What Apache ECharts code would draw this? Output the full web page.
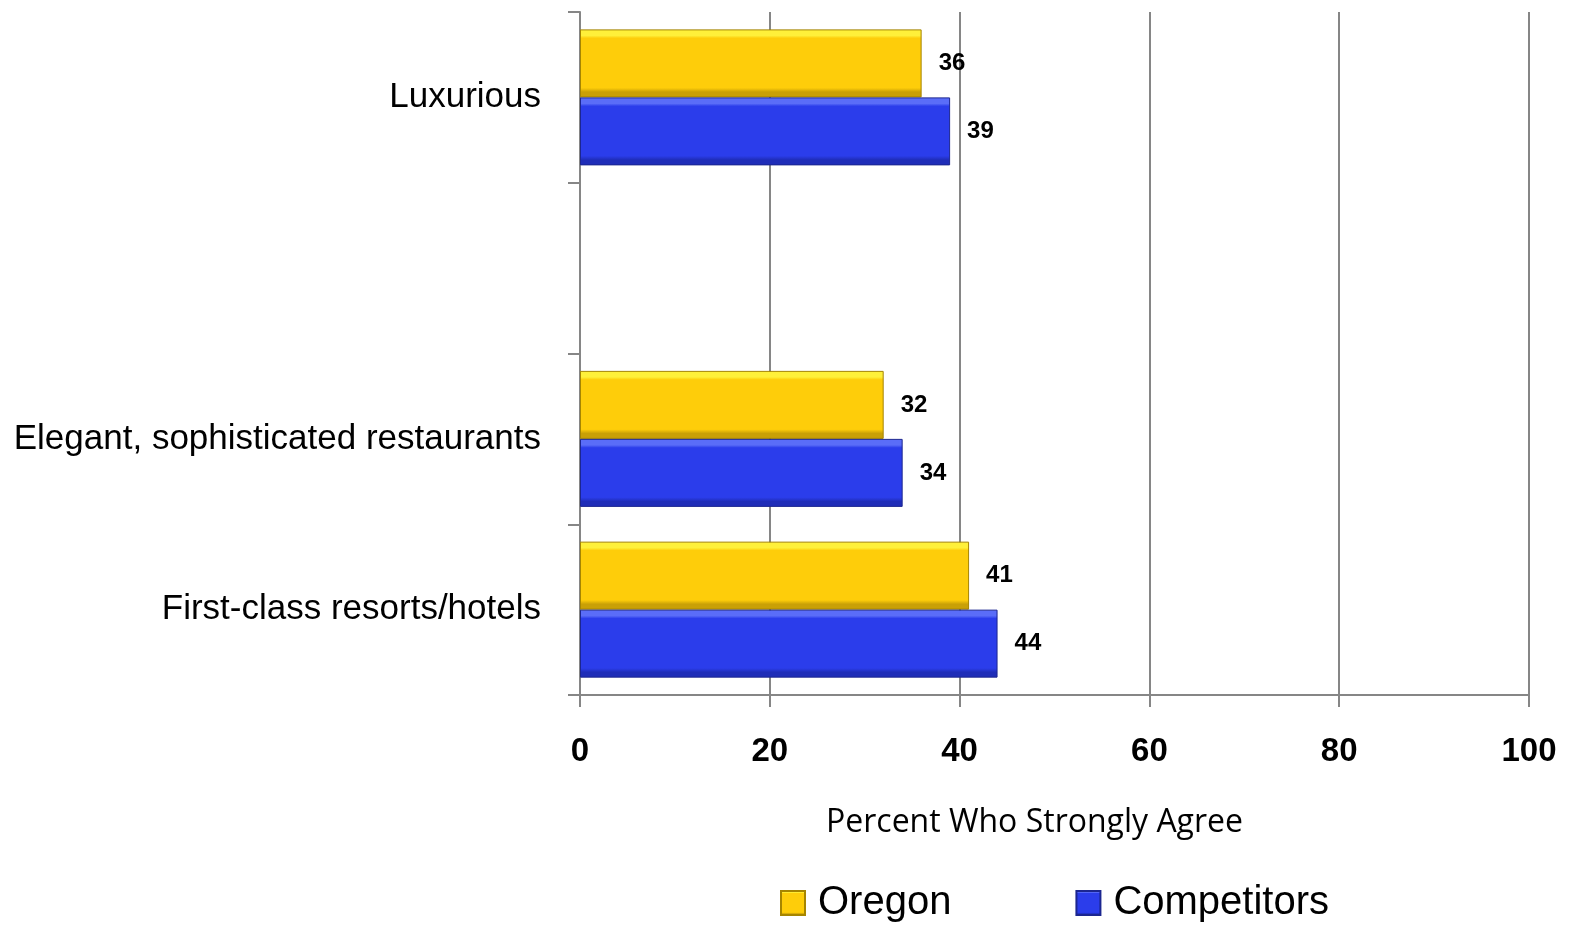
<!DOCTYPE html>
<html>
<head>
<meta charset="utf-8">
<script src="https://cdn.jsdelivr.net/npm/echarts@6/dist/echarts.min.js"></script>
<style>
  html, body { margin: 0; padding: 0; background: #ffffff; }
  #chart { width: 1570px; height: 925px; }
</style>
</head>
<body>
<div id="chart"></div>
<script>
// Category slots, bottom to top (the blank slot keeps the gap under "Luxurious")
const categories = ['First-class resorts/hotels', 'Elegant, sophisticated restaurants', '', 'Luxurious'];
const seriesNames = ['Oregon', 'Competitors'];
const oregonValues = [41, 32, '-', 36];
const competitorValues = [44, 34, '-', 39];
const xTicks = [0, 20, 40, 60, 80, 100];
const axisTitle = 'Percent Who Strongly Agree';

const gridColor = '#868686';

// Bevelled bar fill: bright top edge, flat face, dark bottom edge
function bevel(light, face, dark) {
  return new echarts.graphic.LinearGradient(0, 0, 0, 1, [
    { offset: 0, color: light },
    { offset: 0.09, color: light },
    { offset: 0.13, color: face },
    { offset: 0.86, color: face },
    { offset: 0.92, color: dark },
    { offset: 1, color: dark }
  ]);
}

const chart = echarts.init(document.getElementById('chart'), null, { renderer: 'canvas' });

const labelStyle = {
  show: true,
  position: 'right',
  distance: 17,
  color: '#000000',
  fontFamily: 'Liberation Sans, Arial, sans-serif',
  fontWeight: 'bold',
  fontSize: 24
};

chart.setOption({
  animation: false,
  backgroundColor: '#ffffff',
  grid: { left: 580, right: 41, top: 12, bottom: 230, containLabel: false, outerBoundsMode: 'none' },
  legend: {
    top: 883,
    left: 780,
    padding: 0,
    itemWidth: 24,
    itemHeight: 24,
    itemGap: 124,
    icon: 'rect',
    data: seriesNames,
    textStyle: {
      color: '#000000',
      fontFamily: 'Liberation Sans, Arial, sans-serif',
      fontSize: 40,
      padding: [0, 0, 0, 8]
    }
  },
  xAxis: {
    type: 'value',
    min: xTicks[0],
    max: xTicks[xTicks.length - 1],
    interval: xTicks[1] - xTicks[0],
    name: axisTitle,
    nameLocation: 'middle',
    nameGap: 112,
    nameTextStyle: {
      color: '#000000',
      fontFamily: '"Open Sans", Lato, sans-serif',
      fontSize: 32,
      padding: [0, 40, 0, 0]
    },
    axisLine: { show: true, lineStyle: { color: gridColor, width: 2 } },
    axisTick: { show: true, length: 12, lineStyle: { color: gridColor, width: 2 } },
    axisLabel: {
      margin: 40,
      color: '#000000',
      fontFamily: 'Liberation Sans, Arial, sans-serif',
      fontWeight: 'bold',
      fontSize: 33
    },
    splitLine: { show: true, lineStyle: { color: gridColor, width: 2 } }
  },
  yAxis: {
    type: 'category',
    data: categories,
    axisLine: { show: true, lineStyle: { color: gridColor, width: 2 } },
    axisTick: { show: true, length: 12, alignWithLabel: false, lineStyle: { color: gridColor, width: 2 } },
    axisLabel: {
      margin: 39,
      color: '#000000',
      fontFamily: '"Liberation Sans Narrow", "Arial Narrow", "Liberation Sans", sans-serif',
      fontSize: 35
    },
    splitLine: { show: false }
  },
  series: [
    {
      name: seriesNames[0],
      type: 'bar',
      data: oregonValues,
      barWidth: 68,
      barGap: '0%',
      itemStyle: {
        color: bevel('#fff03a', '#fecd0a', '#c9a006'),
        borderColor: '#a68500',
        borderWidth: 1
      },
      label: labelStyle
    },
    {
      name: seriesNames[1],
      type: 'bar',
      data: competitorValues,
      barWidth: 68,
      barGap: '0%',
      itemStyle: {
        color: bevel('#5a6df8', '#2b3deb', '#1f2db8'),
        borderColor: '#1c2690',
        borderWidth: 1
      },
      label: labelStyle
    }
  ]
});
</script>
</body>
</html>
